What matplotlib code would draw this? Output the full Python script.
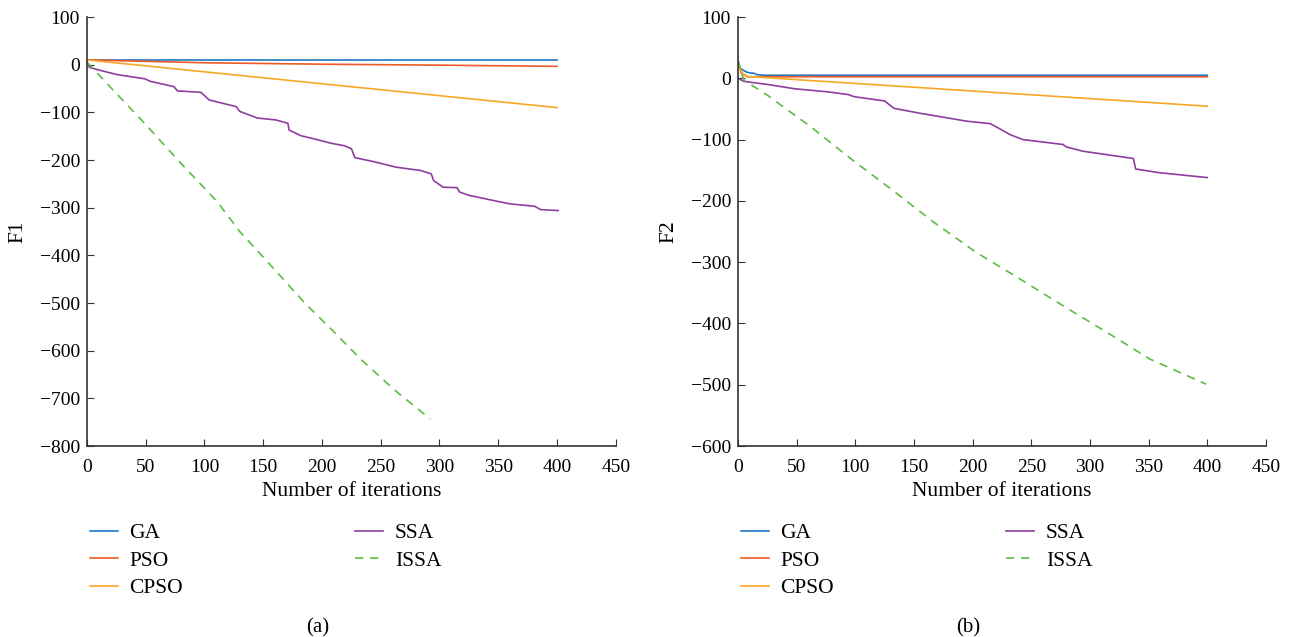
import numpy as np
import matplotlib.pyplot as plt

plt.rcParams['font.family'] = ['Liberation Serif', 'DejaVu Serif']

labels = ['GA', 'PSO', 'CPSO', 'SSA', 'ISSA']
colors = ['#1f77c4', '#ee5a28', '#f9a825', '#8e3e9e', '#5dbb46']

# F1 curves (iteration, value)
f1_ga_it = [0, 400]
f1_ga = [10, 10]
f1_pso_it = [0, 100, 200, 300, 400]
f1_pso = [10, 4, 1, -1, -3.5]
f1_cpso_it = [0, 400]
f1_cpso = [10, -90]
f1_ssa_it = [0, 2, 9, 26, 49, 54, 74, 77, 97, 104, 127, 130, 145, 161, 171, 172, 182, 194, 208,
             219, 225, 228, 245, 263, 284, 293, 295, 303, 315, 317, 325, 346, 360, 381, 386, 401]
f1_ssa = [7, -5.6, -10.5, -21, -29.5, -35, -46, -55, -58, -74, -88, -98, -112, -116, -123, -137, -149, -156, -165,
          -170, -176, -195, -204, -215, -222, -229, -243, -257, -258, -267, -274, -285, -292, -297, -304, -306]
f1_issa_it = [0, 18, 49, 80, 111, 130, 145, 185, 210, 233, 262, 292]
f1_issa = [5, -42, -123, -207, -288, -350, -390, -499, -560, -618, -683, -743]

# F2 curves
f2_ga_it = [0, 2, 8, 14, 16, 22, 400]
f2_ga = [28, 16, 9.5, 8, 6, 5, 5]
f2_pso_it = [0, 3, 8, 400]
f2_pso = [25, 8, 2.5, 2.5]
f2_cpso_it = [0, 4, 8, 400]
f2_cpso = [22, 8, 3, -45.5]
f2_ssa_it = [0, 5, 25, 48, 76, 94, 99, 125, 133, 155, 195, 215, 220, 232, 243, 277, 280, 294,
             334, 337, 339, 359, 400]
f2_ssa = [0, -5, -10, -17, -22, -26.5, -30, -37, -49, -57, -70, -74, -79, -92, -100, -108, -112, -119,
          -130, -131, -148, -154, -162]
f2_issa_it = [0, 5, 25, 62, 96, 130, 167, 203, 240, 277, 314, 351, 399]
f2_issa = [30, -3, -27.5, -79, -131, -180, -235, -284, -327, -371, -414, -458, -499]

fig = plt.figure(figsize=(12.96, 6.37), dpi=100)
ax1 = fig.add_axes([0.0671, 0.2998, 0.408, 0.6735])
ax2 = fig.add_axes([0.5694, 0.2998, 0.4074, 0.6735])

panels = [
    (ax1, 'F1', [(f1_ga_it, f1_ga), (f1_pso_it, f1_pso), (f1_cpso_it, f1_cpso),
                 (f1_ssa_it, f1_ssa), (f1_issa_it, f1_issa)], (-800, 100), '(a)'),
    (ax2, 'F2', [(f2_ga_it, f2_ga), (f2_pso_it, f2_pso), (f2_cpso_it, f2_cpso),
                 (f2_ssa_it, f2_ssa), (f2_issa_it, f2_issa)], (-600, 100), '(b)'),
]

for ax, name, series, ylim, cap in panels:
    handles = []
    for (it, val), lab, c in zip(series, labels, colors):
        ls = (0, (5, 4)) if lab == 'ISSA' else '-'
        h, = ax.plot(it, val, color=c, lw=1.2, ls=ls, label=lab)
        handles.append(h)
    ax.set_xlim(0, 450)
    ax.set_ylim(*ylim)
    ax.set_xticks(np.arange(0, 451, 50))
    ax.set_yticks(np.arange(ylim[0], ylim[1] + 1, 100))
    ax.spines['top'].set_visible(False)
    ax.spines['right'].set_visible(False)
    for s in ('left', 'bottom'):
        ax.spines[s].set_color('#333333')
        ax.spines[s].set_linewidth(1.2)
    ax.tick_params(direction='in', labelsize=14, length=5, color='#333333')
    ax.tick_params(axis='x', pad=9)
    ax.tick_params(axis='y', pad=5)
    ax.set_xlabel('Number of iterations', fontsize=15.5, labelpad=5)
    ax.set_ylabel(name, fontsize=15.5, labelpad=9)
    box = ax.get_position()
    fig.legend(handles=handles, ncol=2, frameon=False, fontsize=15.5,
               loc='upper left', bbox_to_anchor=(box.x0 + 0.002, 0.179),
               borderpad=0, borderaxespad=0,
               handlelength=1.3, handletextpad=0.55, columnspacing=8.0,
               labelspacing=0.35)
    fig.text(box.x0 + box.width * 0.436, 0.014, cap, fontsize=15, ha='center', va='center')

fig.savefig('out.png', dpi=100)
